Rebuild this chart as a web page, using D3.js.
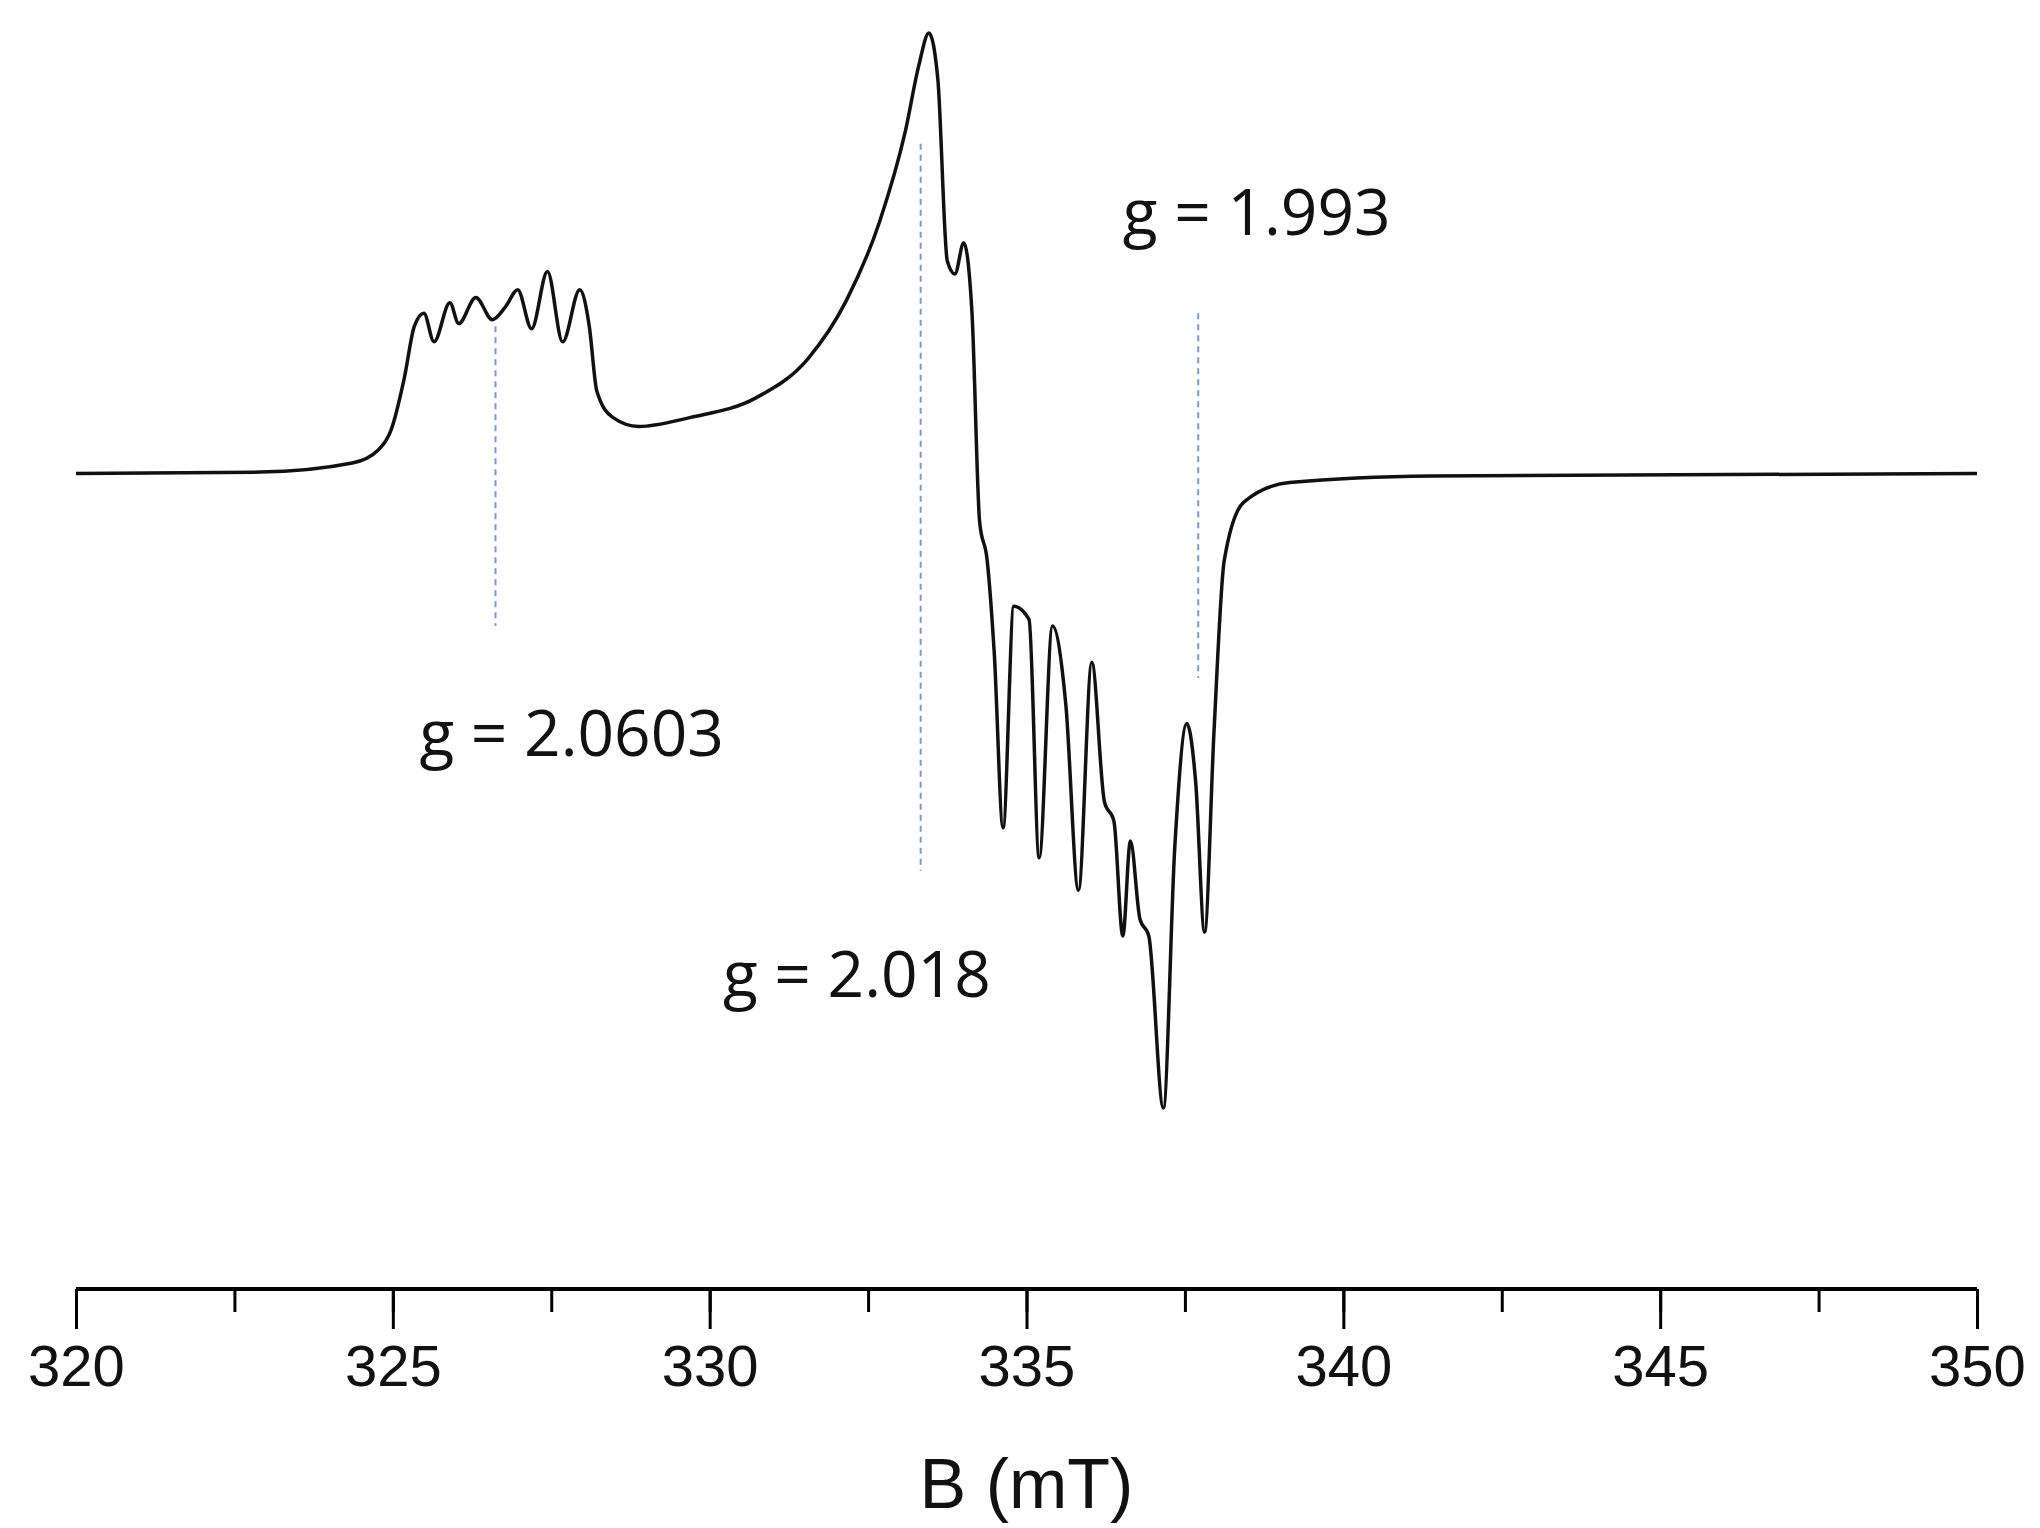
<!DOCTYPE html>
<html><head><meta charset="utf-8">
<script src="https://cdn.jsdelivr.net/npm/d3@7"></script>
<style>body{margin:0;background:#fff}</style>
</head><body><div id="chart"></div>
<script>
// spectrum: field (mT) and signal (arb. units)
const field = [320,322.9,324.36,324.77,324.97,325.18,325.34,325.49,325.65,325.9,326.04,326.31,326.57,326.78,326.97,327.19,327.44,327.68,327.95,328.1,328.22,328.47,328.88,329.7,330.73,331.55,332.16,332.68,333.09,333.3,333.46,333.6,333.75,333.87,334.01,334.14,334.26,334.38,334.49,334.63,334.8,335.04,335.2,335.41,335.62,335.82,336.03,336.23,336.38,336.52,336.64,336.79,336.93,337.16,337.34,337.53,337.67,337.81,337.96,338.12,338.43,339.15,341.4,350];
const signal = [0,1,8,18,33,73,113,123,101,131,115,135,118,128,141,111,155,101,141,113,63,43,36,43,58,88,133,193,263,313,338,303,163,153,177,123,-37,-67,-137,-272,-102,-112,-295,-117,-177,-320,-145,-252,-267,-355,-282,-342,-355,-487,-287,-192,-237,-352,-197,-67,-22,-7,-2,0];

// g-value markers
const markerB = [326.62, 333.33, 337.71];
const markerTop = [113, 253, 123];
const markerBottom = [-117, -305, -157];
const labels = ["g = 2.0603", "g = 2.018", "g = 1.993"];
const labelB = [325.42, 330.21, 336.52];
const labelY = [-217, -402, 183];

const majorTicks = [320, 325, 330, 335, 340, 345, 350];

const W = 2040, H = 1528;
const svg = d3.select("#chart").append("svg").attr("width", W).attr("height", H);

const x = d3.scaleLinear().domain([320, 350]).range([76, 1977]);
const y = d3.scaleLinear().domain([-487, 338]).range([1108, 33]);

// dashed markers
svg.selectAll(".marker").data(markerB).enter().append("line")
  .attr("x1", d => x(d)).attr("x2", d => x(d))
  .attr("y1", (d, i) => y(markerTop[i])).attr("y2", (d, i) => y(markerBottom[i]))
  .attr("stroke", "#7a98d6").attr("stroke-width", 2).attr("stroke-dasharray", "6,5");

// spectrum
const pts = field.map((b, i) => [b, signal[i]]);
svg.append("path").datum(pts)
  .attr("d", d3.line().x(d => x(d[0])).y(d => y(d[1])).curve(d3.curveMonotoneX))
  .attr("fill", "none").attr("stroke", "#111").attr("stroke-width", 3.5);

// labels
svg.selectAll(".glab").data(labels).enter().append("text")
  .attr("x", (d, i) => x(labelB[i])).attr("y", (d, i) => y(labelY[i]))
  .attr("font-family", "Open Sans, sans-serif").attr("font-size", 64).attr("fill", "#111")
  .text(d => d);

// x axis
const axisY = 1289;
const gx = svg.append("g").attr("transform", `translate(0,${axisY})`);
gx.append("g").call(d3.axisBottom(x).tickValues(d3.range(320, 350.1, 2.5)).tickSize(23).tickFormat(""))
  .call(g => g.selectAll("line").attr("stroke-width", 3))
  .call(g => g.select(".domain").attr("stroke-width", 4).attr("d", `M${x(320)},0H${x(350)}`));
gx.append("g").call(d3.axisBottom(x).tickValues(majorTicks).tickSize(40).tickPadding(16).tickFormat(d3.format("d")))
  .call(g => g.select(".domain").remove())
  .call(g => g.selectAll("line").attr("stroke-width", 3))
  .call(g => g.selectAll("text").attr("font-family", "Liberation Sans, Arial, sans-serif").attr("font-size", 58).attr("fill", "#111"));

svg.append("text").attr("x", (x(320) + x(350)) / 2).attr("y", 1508).attr("text-anchor", "middle")
  .attr("font-family", "Liberation Sans, Arial, sans-serif").attr("font-size", 70).attr("fill", "#111")
  .text("B (mT)");
</script></body></html>
